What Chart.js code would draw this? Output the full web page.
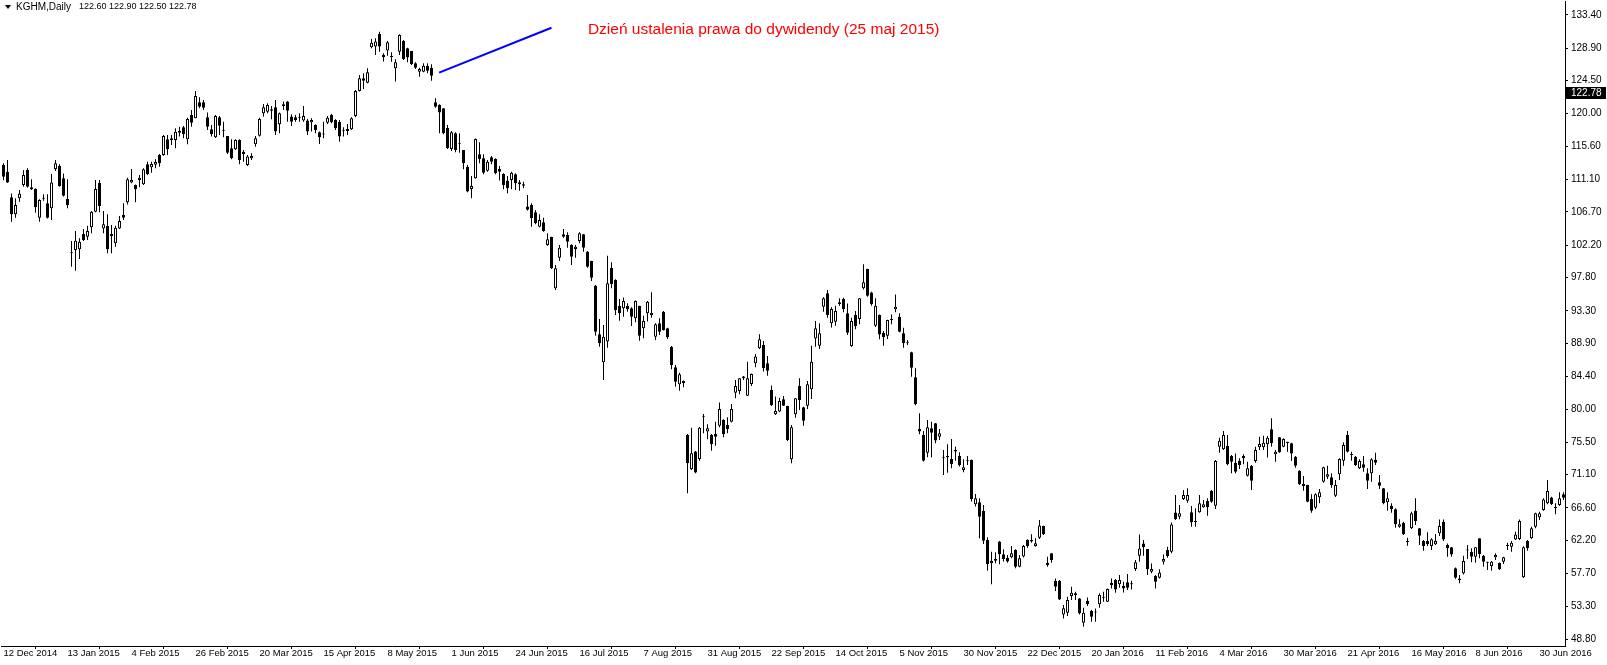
<!DOCTYPE html>
<html>
<head>
<meta charset="utf-8">
<script src="https://cdn.jsdelivr.net/npm/chart.js@4.4.1/dist/chart.umd.min.js"></script>
<style>
  html, body { margin: 0; padding: 0; background: #fff; }
  #wrap { width: 1607px; height: 665px; }
</style>
</head>
<body>
<div id="wrap"><canvas id="kghmChart" width="1607" height="665"></canvas></div>
<script>
// KGHM daily candles, 12 Dec 2014 .. early Jul 2016
const opens = [
113.05,112.15,108.67,106.37,108.54,110.34,112.37,109.76,109.8,105.92,108.6,107.86,107.18,112.51,112.92,111.25,108.45,101.2,101.54,101.63,
103.71,103.34,104.61,106.73,110.66,104.47,104.79,103.71,102.44,104.47,106.28,108.0,110.7,110.34,111.03,110.44,113.15,112.74,113.1,114.41,
114.41,116.53,116.44,116.44,117.71,118.16,116.53,119.83,119.38,121.55,121.55,119.51,117.89,116.81,119.51,117.8,116.98,115.32,115.18,116.44,
114.86,113.06,113.96,115.86,117.03,120.06,120.28,120.6,120.87,118.57,121.28,121.64,119.61,119.52,119.5,119.07,119.07,118.84,118.48,117.49,
117.2,118.79,119.83,119.16,118.93,117.7,117.67,117.89,119.7,123.08,124.8,124.21,128.99,129.09,130.8,127.96,128.55,127.8,126.15,128.41,
129.85,128.86,128.5,126.83,125.7,125.7,126.51,126.24,121.55,121.19,120.73,118.11,115.23,117.35,116.05,115.09,112.83,109.81,111.25,114.5,
113.96,112.29,114.1,113.87,112.52,111.84,110.94,111.03,111.8,110.44,110.44,107.42,107.64,106.64,104.7,105.29,102.22,103.3,96.35,100.5,
103.66,103.57,102.22,101.68,102.76,103.66,101.32,100.05,96.71,90.12,86.33,89.13,99.15,97.48,93.96,93.64,93.96,93.64,92.29,93.96,
90.93,92.96,92.74,89.8,91.61,93.19,90.93,88.45,85.65,83.35,83.8,76.49,71.84,74.23,73.24,79.0,76.94,76.49,76.62,77.75,
78.52,77.84,78.29,82.22,82.45,84.39,81.81,83.39,86.19,88.23,88.68,86.19,82.58,79.29,79.65,81.32,80.41,73.19,79.28,83.12,
80.23,80.45,82.67,89.57,88.58,93.86,95.67,91.61,91.83,94.45,94.9,92.96,88.53,92.73,92.19,96.35,98.96,95.8,91.29,92.73,
90.34,89.93,92.19,93.5,92.51,90.25,88.95,87.68,84.29,77.3,76.48,74.09,77.39,78.06,76.26,73.38,73.64,73.23,74.45,73.64,
71.74,72.98,73.1,67.09,67.36,66.19,62.26,59.1,59.46,62.04,60.32,59.87,59.92,60.91,58.65,60.01,62.26,62.26,61.45,62.58,
64.16,59.18,60.45,56.7,56.7,52.18,52.41,54.67,55.03,54.35,51.05,54.03,52.63,52.5,53.54,54.42,53.9,56.47,56.83,56.25,
56.07,56.52,56.25,58.32,60.13,61.8,61.03,57.96,57.38,57.15,59.32,60.9,60.67,66.0,65.42,67.81,67.59,66.01,64.7,66.01,
66.68,67.54,68.9,66.91,74.9,74.54,74.99,73.64,72.73,73.0,73.64,70.97,72.28,72.96,74.81,74.81,75.22,77.25,73.86,76.16,
74.9,75.45,75.35,73.55,71.65,69.84,69.71,67.81,66.64,68.04,70.16,70.84,70.75,68.26,71.15,73.0,76.48,73.78,73.55,71.97,
72.51,71.29,71.29,73.1,70.07,69.26,67.36,66.86,66.41,64.07,64.61,62.07,63.84,66.23,63.84,62.12,62.12,61.45,61.67,63.16,
64.74,61.58,61.26,58.42,57.06,57.74,60.9,60.67,60.0,62.48,60.13,59.2,58.73,59.91,59.18,59.32,61.45,61.35,62.34,62.39,
57.2,62.12,62.48,64.06,65.33,66.32,67.22,68.03,66.77,66.99,68.44
];
const highs = [
113.3,113.73,109.21,108.54,109.67,112.37,112.6,111.11,109.9,108.4,109.08,109.08,111.83,113.73,113.14,111.92,111.11,102.76,104.11,103.12,
104.38,104.83,106.82,111.02,111.02,106.82,106.37,104.92,104.83,106.14,107.86,111.34,112.51,110.43,111.7,112.61,113.51,113.51,113.82,114.55,
117.12,117.12,117.12,118.02,118.25,118.34,119.47,120.51,123.08,122.22,121.86,120.15,118.48,119.83,119.69,118.93,116.98,116.53,116.53,116.53,
115.09,114.41,114.64,116.98,119.47,121.32,121.41,121.05,121.86,120.15,121.64,121.73,119.92,119.83,120.06,121.05,119.29,119.38,118.57,117.58,
118.93,119.7,119.97,119.25,119.16,118.16,118.61,119.52,123.2,125.25,125.48,126.15,130.13,130.22,131.12,128.19,129.86,128.32,127.37,130.75,
129.99,128.95,128.5,126.96,126.24,126.83,126.83,126.69,122.09,121.28,120.73,118.48,117.66,117.48,117.35,115.09,113.06,111.57,116.65,116.13,
114.5,113.73,114.28,113.96,112.92,111.93,111.57,112.15,111.93,111.03,110.8,108.99,107.86,106.96,106.37,105.92,103.8,103.35,99.51,102.22,
104.39,103.93,102.31,102.22,103.93,103.7,101.41,100.1,96.8,92.2,91.38,100.77,99.87,97.57,94.91,95.09,94.32,93.78,94.7,94.0,
92.65,94.63,95.81,91.61,92.29,93.28,91.0,88.54,85.97,84.93,83.85,76.62,77.48,74.32,77.55,79.33,77.93,76.62,78.29,80.87,
78.61,78.88,80.69,83.93,84.2,84.48,86.42,84.8,87.46,90.12,89.22,87.19,83.17,81.68,81.54,81.77,80.45,77.84,81.5,84.16,
80.32,83.79,88.58,91.92,91.61,95.13,96.12,93.77,94.0,94.99,95.08,94.31,92.37,93.27,95.05,99.6,99.0,95.89,94.99,92.8,
90.56,92.1,92.82,95.53,92.96,91.02,89.35,87.75,85.51,79.42,77.03,78.52,78.29,78.1,77.3,74.45,75.22,75.94,74.9,74.14,
73.19,73.64,73.15,68.5,67.91,67.0,62.62,60.68,60.59,62.13,61.0,60.23,61.45,61.0,60.23,61.59,62.35,63.03,62.49,64.97,
64.2,59.99,60.5,57.06,56.83,53.45,54.58,55.93,55.25,54.4,53.09,54.48,52.77,52.99,55.03,55.25,55.7,57.06,56.97,57.51,
56.61,57.65,56.74,59.54,63.02,62.25,61.05,59.09,57.51,58.28,60.31,61.35,64.64,68.35,66.99,69.03,69.26,66.86,66.55,68.35,
67.68,67.9,69.03,73.09,76.12,77.02,76.48,73.77,73.99,73.32,73.86,72.87,72.42,74.9,76.25,76.39,76.34,78.74,74.45,76.2,
76.03,75.58,75.44,73.64,71.7,70.93,69.75,68.44,68.58,69.17,72.19,72.33,71.29,70.39,73.32,75.49,77.02,74.22,73.64,73.19,
73.64,71.97,73.32,74.09,71.07,69.3,68.72,67.23,66.55,65.06,64.74,62.58,66.1,67.9,63.88,62.26,63.3,62.49,63.08,65.05,
65.05,61.8,61.3,58.55,57.51,60.13,61.58,61.13,61.3,62.5,60.22,59.32,59.41,60.45,59.2,60.0,61.9,62.12,63.38,65.05,
61.4,62.25,64.06,65.96,66.1,67.9,70.38,68.12,67.22,68.71,68.71
];
const lows = [
111.0,110.6,105.38,105.92,108.09,110.12,110.0,109.67,106.6,105.38,108.22,105.8,105.6,112.24,110.12,108.8,107.18,99.28,98.74,100.32,
102.76,102.89,103.8,106.64,106.64,103.8,101.09,101.09,101.99,104.38,105.6,107.72,110.57,108.0,110.03,110.34,111.7,112.02,112.61,112.83,
114.32,114.41,115.77,115.32,116.9,116.67,115.86,118.25,119.38,120.73,120.51,117.8,116.9,116.7,117.12,116.8,114.55,113.82,115.09,113.15,
113.51,112.92,113.73,115.54,116.9,119.6,120.06,119.25,117.12,117.35,120.51,118.93,118.34,118.93,118.93,118.93,117.12,117.58,117.35,115.91,
116.67,118.61,118.7,117.8,116.22,116.9,117.12,117.8,119.52,123.0,123.35,124.12,128.86,127.96,128.41,127.06,127.87,127.05,124.35,127.96,
127.28,126.96,126.6,126.06,125.02,125.61,125.47,124.48,120.82,117.35,117.21,115.23,114.95,114.77,114.73,112.47,109.36,108.54,111.2,113.28,
111.8,112.15,113.15,111.8,110.94,109.76,109.22,109.76,109.67,109.58,109.9,106.9,104.7,105.02,104.61,104.0,102.1,98.97,96.12,100.05,
103.2,101.86,99.51,100.5,102.45,101.32,99.15,97.34,89.94,88.45,83.93,88.31,96.35,92.74,91.97,92.51,93.19,91.25,91.75,89.26,
89.58,91.84,92.38,89.35,90.03,90.62,89.49,85.38,83.03,82.49,82.94,68.59,71.75,71.3,73.01,76.71,75.9,74.36,75.04,77.53,
76.17,76.71,78.2,81.45,81.99,83.93,81.75,83.12,85.65,88.14,85.07,84.52,80.42,79.2,79.56,80.4,75.67,72.64,78.83,79.87,
77.74,79.99,81.36,88.45,88.13,93.19,92.37,91.06,91.29,94.0,93.1,90.02,88.45,90.79,91.47,96.2,95.2,94.0,91.1,89.44,
88.58,89.48,91.47,93.1,90.39,88.31,88.67,84.38,80.5,76.57,72.9,73.46,73.46,75.36,75.81,71.07,71.38,71.97,73.01,72.2,
71.43,72.42,67.46,66.78,62.49,61.72,58.11,56.26,59.1,58.97,59.33,59.19,59.78,58.42,58.56,59.9,61.22,61.9,61.36,62.4,
62.94,58.64,59.18,55.34,54.12,51.64,51.96,54.12,54.12,52.18,50.51,53.31,51.19,51.19,53.09,53.9,53.85,55.7,55.12,55.79,
55.16,55.48,55.57,58.05,59.32,60.13,57.51,57.74,55.7,57.06,58.95,59.86,60.45,64.96,65.06,67.68,67.31,64.06,64.06,65.96,
66.64,65.55,67.31,66.46,74.09,74.45,72.4,71.29,71.29,71.87,72.51,70.85,69.03,72.73,74.45,74.45,73.45,74.9,72.87,74.09,
74.81,74.22,73.0,72.06,69.71,68.94,67.36,65.95,66.41,67.23,70.0,70.52,69.35,68.1,70.39,72.33,74.1,73.0,72.28,71.88,
71.52,69.17,70.16,72.42,69.17,67.09,66.23,65.96,63.93,63.93,62.94,61.49,63.75,64.29,61.58,60.81,61.45,60.9,61.58,62.8,
62.12,60.0,60.0,56.97,56.39,57.6,59.68,59.23,59.19,59.77,58.64,58.19,58.1,59.55,58.19,59.0,60.9,60.67,62.25,62.25,
57.1,60.81,62.39,63.84,64.96,66.23,67.1,66.99,65.73,66.9,67.67
];
const closes = [
111.47,110.7,106.37,107.63,109.21,111.7,110.12,110.03,107.32,108.31,108.5,105.92,110.7,113.28,110.21,108.9,107.63,101.1,102.8,102.67,
102.89,104.11,106.73,109.8,107.5,105.02,101.63,103.43,104.56,105.47,105.92,111.11,111.02,109.76,111.34,112.47,111.84,113.19,113.46,113.28,
116.98,115.18,116.67,117.57,117.44,117.21,119.29,118.79,122.4,120.96,120.82,118.25,117.26,119.69,118.38,117.7,114.73,113.96,116.44,113.73,
114.55,114.19,114.28,116.67,119.29,120.87,121.19,120.42,117.58,120.06,121.05,120.42,118.93,119.16,119.45,119.7,117.58,119.16,117.8,116.81,
117.25,119.47,118.84,118.03,116.9,117.75,117.94,119.38,123.08,124.8,124.48,125.61,129.63,129.77,129.09,127.64,129.68,127.7,126.97,130.67,
127.42,127.6,126.69,126.24,126.06,126.51,125.83,125.16,120.96,120.15,117.35,115.32,117.48,115.09,115.95,113.28,109.45,110.21,116.58,113.87,
112.02,113.51,113.51,111.93,112.15,110.35,109.9,112.02,110.58,110.71,110.26,107.0,105.83,105.15,105.6,104.12,102.99,99.06,99.06,101.86,
103.35,102.67,100.64,101.99,103.8,101.86,99.28,97.79,90.48,88.9,89.8,97.03,96.89,93.42,92.96,94.63,93.51,92.51,94.63,89.94,
91.93,94.54,93.05,91.47,90.48,90.71,89.71,85.97,83.71,84.7,83.48,72.65,74.0,71.39,77.48,78.95,77.39,75.22,76.26,80.01,
76.62,77.3,80.01,83.12,84.16,84.16,84.16,84.75,87.1,89.44,85.52,85.2,80.55,79.74,81.09,80.46,75.8,77.52,81.45,81.22,
78.42,83.34,86.41,90.93,90.25,94.99,92.73,93.55,93.27,94.22,93.55,90.34,91.92,91.24,94.99,97.16,95.35,94.18,93.99,90.11,
89.71,92.06,92.06,93.86,90.48,88.9,88.9,85.6,80.63,76.94,73.01,77.52,76.8,75.72,76.71,73.32,73.46,72.56,74.23,72.42,
72.11,72.93,67.82,67.91,65.42,62.17,58.97,59.4,59.69,60.32,59.69,59.33,60.46,58.65,59.78,61.45,61.45,62.04,61.81,64.21,
63.03,58.86,59.54,55.93,54.21,53.0,54.12,55.12,54.8,52.32,52.41,53.58,51.87,52.45,54.8,54.46,55.61,56.16,55.57,56.83,
55.7,55.79,56.3,59.23,61.12,61.26,58.28,58.32,56.61,57.87,59.68,60.08,64.37,65.1,65.87,68.35,68.35,64.65,64.75,67.22,
67.09,66.68,67.45,72.96,75.71,76.48,72.51,72.87,71.51,72.42,73.32,71.97,70.29,74.45,75.26,75.44,76.12,75.35,74.22,74.13,
75.94,75.4,73.99,72.33,69.84,69.57,67.45,66.23,68.44,68.72,72.1,71.15,69.71,69.71,73.23,75.13,74.22,73.76,72.42,72.96,
72.06,70.29,73.19,72.73,69.62,67.23,67.9,66.41,64.38,64.38,63.03,62.0,65.87,64.83,62.85,61.45,61.67,62.35,62.12,64.15,
62.34,61.13,60.31,57.15,56.84,59.41,60.85,60.0,61.26,60.36,59.32,59.18,59.32,60.22,58.28,59.91,61.43,61.9,63.02,64.83,
61.26,61.13,63.84,65.87,65.87,67.76,68.89,67.13,66.55,67.9,67.99
];

// bottom axis: one label every 16 bars
const xTickIdx = [0,16,32,48,64,80,96,112,128,144,160,176,192,208,224,240,256,272,288,304,320,336,352,368,384];
const xTickLabels = ['12 Dec 2014','13 Jan 2015','4 Feb 2015','26 Feb 2015','20 Mar 2015','15 Apr 2015','8 May 2015',
  '1 Jun 2015','24 Jun 2015','16 Jul 2015','7 Aug 2015','31 Aug 2015','22 Sep 2015','14 Oct 2015','5 Nov 2015',
  '30 Nov 2015','22 Dec 2015','20 Jan 2016','11 Feb 2016','4 Mar 2016','30 Mar 2016','21 Apr 2016','16 May 2016',
  '8 Jun 2016','30 Jun 2016'];
const yTicks = [133.4,128.9,124.5,120.0,115.6,111.1,106.7,102.2,97.8,93.3,88.9,84.4,80.0,75.5,71.1,66.6,62.2,57.7,53.3,48.8];

// blue line drawn from the dividend gap (bar index, price)
const dividendLine = [{x: 108.9, y: 125.56}, {x: 137.0, y: 131.65}];
const noteText = 'Dzień ustalenia prawa do dywidendy (25 maj 2015)';
const headerName = 'KGHM,Daily';
const headerPrices = '122.60 122.90 122.50 122.78';
const lastPrice = 122.78;

const FONT = '"Liberation Sans", Arial, sans-serif';

const extras = {
    id: 'extras',
    afterDraw(chart) {
        const ctx = chart.ctx;
        const ys = chart.scales.y;
        const xs = chart.scales.x;
        ctx.save();
        // header
        ctx.fillStyle = '#000';
        ctx.beginPath();
        ctx.moveTo(5, 5); ctx.lineTo(11, 5); ctx.lineTo(8, 9); ctx.closePath();
        ctx.fill();
        ctx.textBaseline = 'middle';
        ctx.textAlign = 'left';
        ctx.font = '10px ' + FONT;
        ctx.fillText(headerName, 16, 7);
        ctx.font = '9px ' + FONT;
        ctx.fillText(headerPrices, 79, 7);
        // note
        ctx.fillStyle = '#ff0000';
        ctx.font = '15.5px ' + FONT;
        ctx.fillText(noteText, xs.getPixelForValue(146.1), ys.getPixelForValue(131.35));
        // last price box
        const py = Math.round(ys.getPixelForValue(lastPrice));
        ctx.fillStyle = '#000';
        ctx.fillRect(chart.chartArea.right + 1, py - 6, 40, 12);
        ctx.fillStyle = '#fff';
        ctx.font = '10px ' + FONT;
        ctx.fillText(lastPrice.toFixed(2), chart.chartArea.right + 6, py);
        ctx.restore();
    }
};

document.addEventListener('DOMContentLoaded', function() {
    const ctx = document.getElementById('kghmChart').getContext('2d');
    const bodyColors = closes.map((c, i) => c >= opens[i] ? '#ffffff' : '#000000');

    new Chart(ctx, {
        type: 'bar',
        data: {
            datasets: [
                {
                    type: 'line',
                    data: dividendLine,
                    borderColor: '#0000ff',
                    borderWidth: 2,
                    pointRadius: 0,
                    order: 0
                },
                {
                    label: 'body',
                    data: opens.map((o, i) => ({x: i, y: [o, closes[i]]})),
                    backgroundColor: bodyColors,
                    borderColor: '#000',
                    borderWidth: 1,
                    borderSkipped: false,
                    barThickness: 3,
                    minBarLength: 1,
                    inflateAmount: 0,
                    grouped: false,
                    order: 1
                },
                {
                    label: 'wick',
                    data: lows.map((l, i) => ({x: i, y: [l, highs[i]]})),
                    backgroundColor: '#000',
                    borderWidth: 0,
                    barThickness: 1,
                    inflateAmount: 0,
                    grouped: false,
                    order: 2
                }
            ]
        },
        options: {
            responsive: false,
            animation: false,
            devicePixelRatio: 1,
            layout: { padding: { left: 1, top: 1, right: 0, bottom: 0 } },
            plugins: { legend: { display: false }, tooltip: { enabled: false } },
            scales: {
                x: {
                    type: 'linear',
                    min: -0.625,
                    max: 390.375,
                    offset: false,
                    border: { color: '#000', width: 1 },
                    grid: { display: true, drawOnChartArea: false, drawTicks: true, tickLength: 3, color: '#000' },
                    afterBuildTicks: s => { s.ticks = xTickIdx.map(v => ({value: v})); },
                    afterFit: s => { s.height = 19; s.paddingLeft = 0; s.paddingRight = 0; },
                    ticks: {
                        autoSkip: false,
                        maxRotation: 0,
                        align: 'start',
                        padding: -1,
                        color: '#000',
                        font: { family: FONT, size: 9.5 },
                        callback: v => xTickLabels[xTickIdx.indexOf(v)]
                    }
                },
                y: {
                    type: 'linear',
                    position: 'right',
                    min: 47.9,
                    max: 135.27,
                    border: { color: '#000', width: 1 },
                    grid: { display: true, drawOnChartArea: false, drawTicks: true, tickLength: 3, color: '#000' },
                    afterBuildTicks: s => { s.ticks = yTicks.map(v => ({value: v})); },
                    afterFit: s => { s.width = 42; s.paddingTop = 0; s.paddingBottom = 0; },
                    ticks: {
                        padding: 3,
                        color: '#000',
                        font: { family: FONT, size: 10 },
                        callback: v => v.toFixed(2)
                    }
                }
            }
        },
        plugins: [extras]
    });
});
</script>
</body>
</html>
